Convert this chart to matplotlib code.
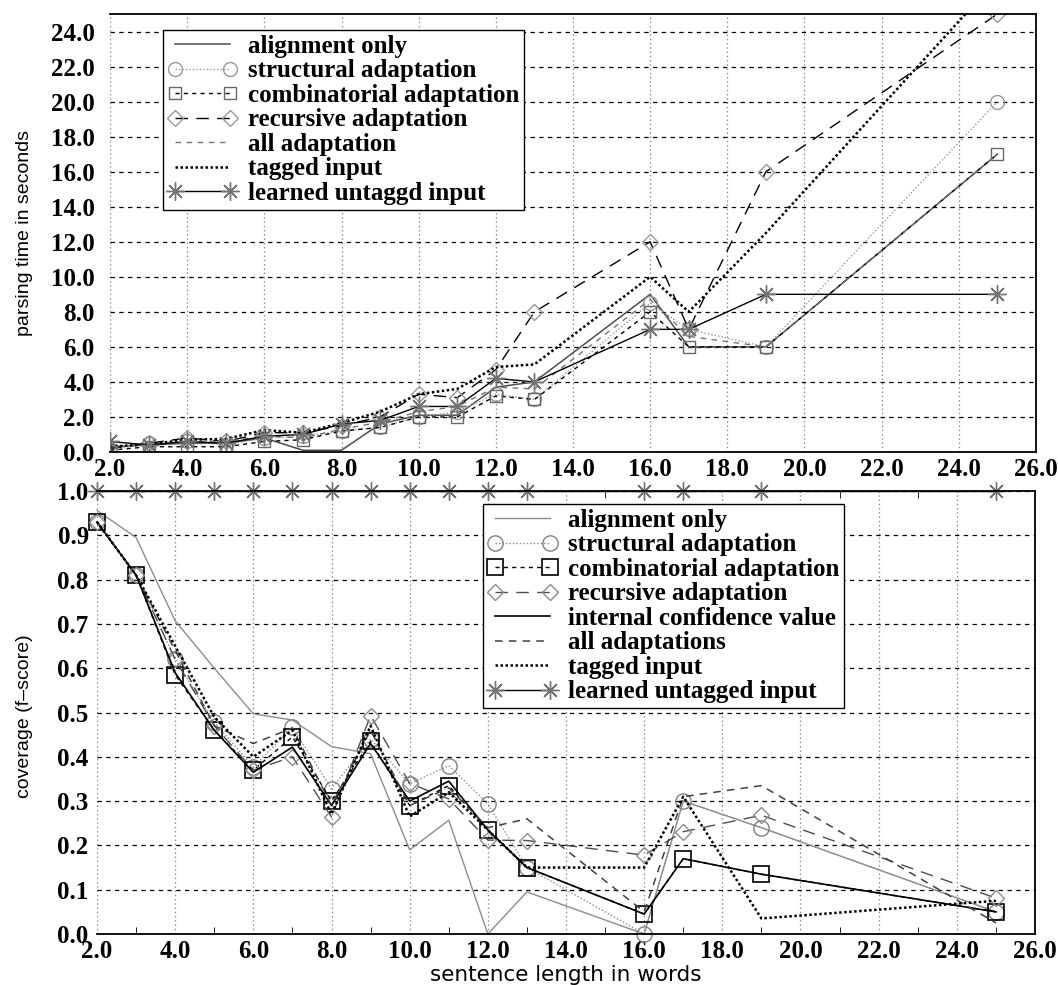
import matplotlib
matplotlib.use("Agg")
from matplotlib import pyplot as plt
from matplotlib.ticker import FormatStrFormatter, MultipleLocator

# sentence lengths (shared by both panels)
lengths = [2, 3, 4, 5, 6, 7, 8, 9, 10, 11, 12, 13, 16, 17, 19, 25]

# parsing time in seconds (upper panel)
time_alignment = [0.3, 0.4, 0.5, 0.5, 0.8, 0.1, 0.1, 1.6, 2.1, 2.1, 3.7, 4.0, 9.0, 6.0, 6.0, 17.0]
time_structural = [0.1, 0.5, 0.6, 0.4, 0.8, 0.9, 1.2, 1.4, 2.0, 2.3, 3.3, 3.0, 8.5, 7.0, 6.0, 20.0]
time_combinatorial = [0.1, 0.3, 0.3, 0.3, 0.6, 0.7, 1.2, 1.4, 2.0, 2.0, 3.2, 3.0, 8.0, 6.0, 6.0, 17.0]
time_recursive = [0.2, 0.5, 0.8, 0.6, 1.1, 1.1, 1.5, 2.0, 3.3, 3.1, 4.7, 8.0, 12.0, 7.0, 16.0, 25.0]
time_all = [0.3, 0.4, 0.6, 0.6, 0.9, 0.8, 1.3, 1.7, 2.3, 2.6, 3.7, 3.6, 8.7, 6.6, 6.0, 17.0]
time_tagged = [0.3, 0.45, 0.7, 0.75, 1.25, 1.1, 1.65, 2.3, 3.3, 3.6, 4.85, 5.0, 10.0, 8.0, 12.5, 27.0]
time_learned = [0.6, 0.4, 0.6, 0.5, 0.9, 1.0, 1.6, 1.8, 2.6, 2.6, 4.2, 4.0, 7.0, 7.0, 9.0, 9.0]

# coverage (f-score) (lower panel)
cov_alignment = [0.956, 0.895, 0.707, 0.60, 0.497, 0.483, 0.423, 0.407, 0.19, 0.257, 0.0, 0.095, 0.0, 0.30, 0.24, 0.05]
cov_structural = [0.93, 0.81, 0.62, 0.478, 0.377, 0.467, 0.328, 0.44, 0.339, 0.38, 0.294, 0.15, 0.0, 0.30, 0.24, 0.05]
cov_combinatorial = [0.93, 0.81, 0.585, 0.46, 0.37, 0.445, 0.30, 0.435, 0.29, 0.335, 0.235, 0.15, 0.045, 0.17, 0.135, 0.05]
cov_recursive = [0.93, 0.81, 0.62, 0.47, 0.37, 0.40, 0.264, 0.493, 0.34, 0.305, 0.212, 0.211, 0.178, 0.231, 0.268, 0.081]
cov_confidence = [0.93, 0.81, 0.59, 0.46, 0.365, 0.422, 0.29, 0.43, 0.30, 0.345, 0.235, 0.15, 0.045, 0.17, 0.135, 0.05]
cov_all = [0.93, 0.81, 0.64, 0.47, 0.43, 0.465, 0.29, 0.46, 0.29, 0.33, 0.24, 0.26, 0.05, 0.31, 0.335, 0.025]
cov_tagged = [0.93, 0.81, 0.65, 0.49, 0.40, 0.46, 0.27, 0.47, 0.265, 0.32, 0.235, 0.15, 0.15, 0.31, 0.035, 0.075]
cov_learned = [1.0, 1.0, 1.0, 1.0, 1.0, 1.0, 1.0, 1.0, 1.0, 1.0, 1.0, 1.0, 1.0, 1.0, 1.0, 1.0]

plt.rcParams["font.family"] = ["Liberation Serif", "DejaVu Serif"]
plt.rcParams["font.weight"] = "bold"
plt.rcParams["font.size"] = 18

W, H = 1058, 985
fig = plt.figure(figsize=(W / 100, H / 100), dpi=100)


def px_axes(left, top, right, bottom):
    return fig.add_axes([left / W, 1 - bottom / H, (right - left) / W, (bottom - top) / H])


def style(ax, ypad):
    ax.spines["left"].set_visible(False)
    for s in ("top", "right", "bottom"):
        ax.spines[s].set_linewidth(1.3)
    ax.xaxis.grid(True, color="0.55", linestyle=(0, (1.2, 2.2)), linewidth=0.9)
    ax.yaxis.grid(True, color="black", linestyle=(0, (3.5, 3.5)), linewidth=0.9)
    ax.set_axisbelow(True)
    ax.tick_params(axis="both", which="major", length=0)
    ax.tick_params(axis="x", pad=4)
    ax.tick_params(axis="y", pad=ypad)
    ax.xaxis.set_major_formatter(FormatStrFormatter("%.1f"))
    ax.yaxis.set_major_formatter(FormatStrFormatter("%.1f"))
    ax.set_xlim(2, 26)
    ax.set_xticks(range(2, 27, 2))


def add_legend(ax, anchor):
    leg = ax.legend(loc="upper left", bbox_to_anchor=anchor, borderaxespad=0,
                    numpoints=2, handlelength=2.8, handletextpad=0.4, labelspacing=0.06,
                    borderpad=0.2, fancybox=False, framealpha=1, edgecolor="black", fontsize=18)
    leg.get_frame().set_linewidth(1.0)
    return leg


ax1 = px_axes(110, 14, 1036, 452)
ax2 = px_axes(97, 491, 1035, 934)

# ---- upper panel: parsing time
ax1.plot(lengths, time_alignment, color="0.3", lw=1.1, label="alignment only")
ax1.plot(lengths, time_structural, color="0.6", lw=1.0, ls=(0, (1, 1.5)),
         marker="o", ms=10, mfc="none", mec="0.6", label="structural adaptation")
ax1.plot(lengths, time_combinatorial, color="black", lw=1.0, ls=(0, (3, 3)),
         marker="s", ms=9, mfc="none", mec="0.4", label="combinatorial adaptation")
ax1.plot(lengths, time_recursive, color="black", lw=1.0, ls=(0, (9, 6)),
         marker="D", ms=8, mfc="none", mec="0.6", label="recursive adaptation")
ax1.plot(lengths, time_all, color="0.45", lw=1.0, ls=(0, (4, 4)), label="all adaptation")
ax1.plot(lengths, time_tagged, color="black", lw=1.8, ls=(0, (1, 1)), label="tagged input")
ax1.plot(lengths, time_learned, color="black", lw=1.0,
         marker=(8, 2, 0), ms=13, mec="0.45", mew=1.0, label="learned untaggd input")

style(ax1, 11)
ax1.set_ylim(0, 25)
ax1.set_yticks(range(0, 25, 2))
add_legend(ax1, (0.057, 0.9635))

# ---- lower panel: coverage
ax2.plot(lengths, cov_alignment, color="0.55", lw=1.0, label="alignment only", clip_on=False)
ax2.plot(lengths, cov_structural, color="0.55", lw=1.0, ls=(0, (1, 1.5)),
         marker="o", ms=11, mfc="none", mec="0.5", label="structural adaptation", clip_on=False)
ax2.plot(lengths, cov_combinatorial, color="black", lw=1.0, ls=(0, (3, 3)),
         marker="s", ms=11, mfc="none", mec="black", mew=1.2,
         label="combinatorial adaptation", clip_on=False)
ax2.plot(lengths, cov_recursive, color="0.3", lw=1.0, ls=(0, (9, 6)),
         marker="D", ms=8, mfc="none", mec="0.55", label="recursive adaptation", clip_on=False)
ax2.plot(lengths, cov_confidence, color="black", lw=1.2, label="internal confidence value", clip_on=False)
ax2.plot(lengths, cov_all, color="0.25", lw=1.1, ls=(0, (5, 4)), label="all adaptations", clip_on=False)
ax2.plot(lengths, cov_tagged, color="black", lw=1.8, ls=(0, (1, 1)), label="tagged input", clip_on=False)
ax2.plot(lengths, cov_learned, color="black", lw=1.0,
         marker=(8, 2, 0), ms=13, mec="0.45", mew=1.0, label="learned untagged input", clip_on=False)

style(ax2, 6)
ax2.set_ylim(0, 1.0)
ax2.yaxis.set_major_locator(MultipleLocator(0.1))
ax2.xaxis.set_minor_locator(MultipleLocator(1))
ax2.tick_params(axis="x", which="minor", direction="in", length=5, top=True, bottom=True)
add_legend(ax2, (0.4115, 0.9707))

narrow = ["Liberation Sans Narrow", "Liberation Sans", "DejaVu Sans"]
fig.text(25 / W, 1 - 233 / H, "parsing time in seconds", rotation=90, ha="center", va="center",
         family=narrow, weight="normal", size=14)
fig.text(25 / W, 1 - 716 / H, "coverage (f\u2013score)", rotation=90, ha="center", va="center",
         family=narrow, weight="normal", size=14)
fig.text(566 / W, 1 - 975 / H, "sentence length in words", ha="center", va="center",
         family="DejaVu Sans", weight="normal", size=15.5)

fig.savefig("out.png", dpi=100)
